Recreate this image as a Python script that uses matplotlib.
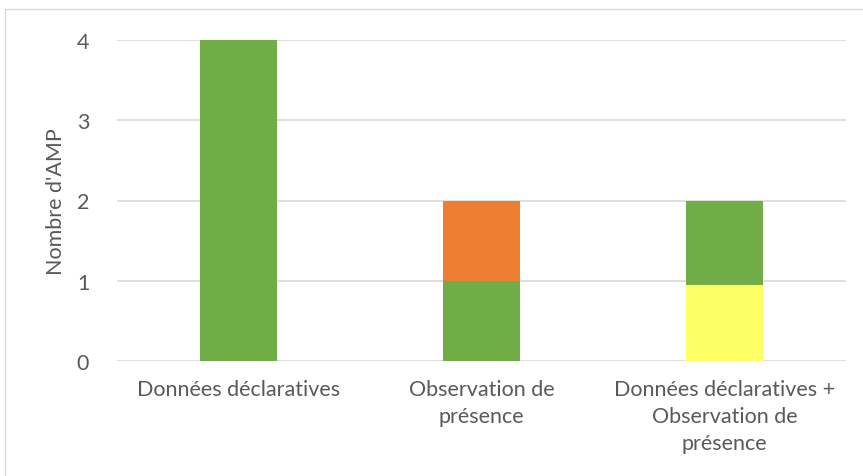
import matplotlib
matplotlib.use("Agg")
import matplotlib.pyplot as plt
from matplotlib.patches import Rectangle

categories = ["Données déclaratives", "Observation de\nprésence", "Données déclaratives +\nObservation de\nprésence"]
yellow_vals = [0, 0, 0.95]
green_vals = [4, 1, 1.05]
orange_vals = [0, 1, 0]
yticks = [0, 1, 2, 3, 4]

plt.rcParams['font.family'] = ['Lato', 'DejaVu Sans']
txt = '#595959'
fs = 15.5

fig = plt.figure(figsize=(8.63, 4.77), dpi=100)
ax = fig.add_axes([117/863, 1-362/477, 729/863, 321/477])

x = list(range(len(categories)))
w = 0.317
ax.bar(x, yellow_vals, w, color='#FFFF66', zorder=3)
ax.bar(x, green_vals, w, bottom=yellow_vals, color='#70AD47', zorder=3)
bott = [a + b for a, b in zip(yellow_vals, green_vals)]
ax.bar(x, orange_vals, w, bottom=bott, color='#ED7D31', zorder=3)

ax.set_xlim(-0.5, 2.5)
ax.set_ylim(0, 4)
ax.set_yticks(yticks)
ax.set_yticklabels([str(t) for t in yticks], fontsize=fs, color=txt)
ax.set_xticks(x)
ax.set_xticklabels(categories, fontsize=fs, color=txt, linespacing=1.45)
ax.tick_params(axis='y', length=0, pad=20)
ax.tick_params(axis='x', length=0, pad=13)
ax.grid(axis='y', color='#D9D9D9', linewidth=1.2, zorder=0)
for s in ax.spines.values():
    s.set_visible(False)
fig.text(56/863, 1 - 201.5/477, "Nombre d'AMP", fontsize=fs, color=txt,
         rotation=90, ha='center', va='center')

fig.patches.append(Rectangle((5/863, -0.1), 1.0, 1 - 10/477 + 0.1, transform=fig.transFigure,
                             fill=False, edgecolor='#D9D9D9', linewidth=1, figure=fig))

fig.savefig("out.png", dpi=100)
